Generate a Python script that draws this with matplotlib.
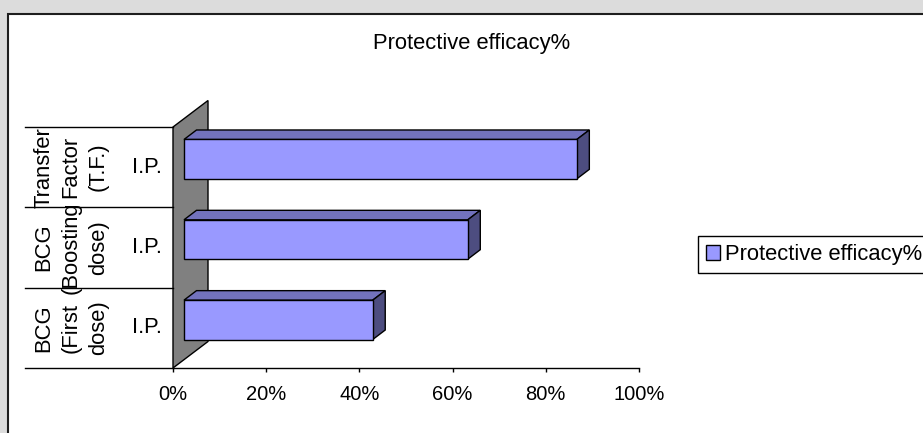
import numpy as np
import matplotlib
matplotlib.use("Agg")
import matplotlib.pyplot as plt
import matplotlib.transforms as mtransforms
from matplotlib.patches import Polygon, Rectangle, Patch

plt.rcParams['font.family'] = ['Liberation Sans', 'DejaVu Sans']

# ---- data -------------------------------------------------------------
chart_title = "Protective efficacy%"
series_name = "Protective efficacy%"
groups = ["BCG\n(First\ndose)", "BCG\n(Boosting\ndose)", "Transfer\nFactor\n(T.F.)"]
routes = ["I.P.", "I.P.", "I.P."]
efficacy = [40.5, 60.9, 84.3]
x_ticks = [0, 20, 40, 60, 80, 100]
x_tick_labels = ["0%", "20%", "40%", "60%", "80%", "100%"]

# ---- styling ----------------------------------------------------------
W, H = 923, 433
FRONT = "#9999ff"
TOP = "#7272bd"
SIDE = "#4d4d80"
WALL = "#808080"
TXT = 15.8
TICK_TXT = 14.5

fig = plt.figure(figsize=(W / 100, H / 100), dpi=100)
fig.patch.set_facecolor("#dcdcdc")

# chart area: white panel with a dark edge along the top and left
fig.patches.append(Rectangle((8 / W, -0.2), 1.3, (1 - 14 / H) + 0.2,
                             transform=fig.transFigure, facecolor="white",
                             edgecolor="#1e1e1e", linewidth=1.5, zorder=-5))

ax = fig.add_axes([173 / W, 1 - 368 / H, (639 - 173) / W, (368 - 127) / H])
ax.set_xlim(0, 100)
ax.set_ylim(-0.5, len(groups) - 0.5)
ax.patch.set_visible(False)
for s in ("top", "right", "left"):
    ax.spines[s].set_visible(False)
ax.spines["bottom"].set_color("black")
ax.spines["bottom"].set_linewidth(1.0)
ax.set_yticks([])
ax.set_xticks(x_ticks, x_tick_labels, fontsize=TICK_TXT)
ax.tick_params(axis="x", length=3, width=1, direction="out", pad=9.2, colors="black")


def shifted(xs, ys, dxs, dys):
    """Data points pushed back in depth by a pixel offset, returned in data units."""
    disp = ax.transData.transform(np.column_stack([xs, ys]))
    disp = disp + np.column_stack([dxs, dys])
    return ax.transData.inverted().transform(disp)


# side wall behind the category axis
n = len(groups)
wall_dx, wall_dy = 35, 26.5
wall = shifted([0, 0, 0, 0], [-0.5, n - 0.5, n - 0.5, -0.5],
               [0, 0, wall_dx, wall_dx], [0, 0, wall_dy, wall_dy])
ax.add_patch(Polygon(wall, closed=True, facecolor=WALL, edgecolor="black",
                     linewidth=1.0, clip_on=False, zorder=1))

# 3-D bars: front face offset into the depth, plus top and end faces
fdx, fdy = 11, 8
bdx, bdy = 23.5, 17.5
bar_h = 0.49
ypos = np.arange(n)
front_tr = mtransforms.offset_copy(ax.transData, fig=fig, x=fdx, y=fdy, units="dots")
for y, v in zip(ypos, efficacy):
    top = shifted([0, v, v, 0], [y + bar_h / 2] * 4, [fdx, fdx, bdx, bdx], [fdy, fdy, bdy, bdy])
    side = shifted([v, v, v, v], [y - bar_h / 2, y + bar_h / 2, y + bar_h / 2, y - bar_h / 2],
                   [fdx, fdx, bdx, bdx], [fdy, fdy, bdy, bdy])
    ax.add_patch(Polygon(top, closed=True, facecolor=TOP, edgecolor="black",
                         linewidth=1.0, clip_on=False, zorder=3))
    ax.add_patch(Polygon(side, closed=True, facecolor=SIDE, edgecolor="black",
                         linewidth=1.0, clip_on=False, zorder=3))
ax.barh(ypos, efficacy, height=bar_h, color=FRONT, edgecolor="black", linewidth=1.0,
        transform=front_tr, clip_on=False, zorder=4)

# two-level category axis: group names (rotated) and route labels
lab_tr = mtransforms.blended_transform_factory(fig.transFigure, ax.transData)
for b in np.arange(n + 1) - 0.5:
    ax.plot([25 / W, 173 / W], [b, b], color="black", linewidth=1.0,
            transform=lab_tr, clip_on=False, zorder=2)
for y, g, r in zip(ypos, groups, routes):
    ax.text(71 / W, y, g, transform=lab_tr, rotation=90, ha="center", va="center",
            multialignment="center", fontsize=TXT, linespacing=1.4)
    ax.text(147 / W, y, r, transform=lab_tr, ha="center", va="center", fontsize=TXT)

fig.text(471.5 / W, 1 - 49 / H, chart_title, ha="center", va="baseline", fontsize=TXT)

leg = fig.legend(handles=[Patch(facecolor=FRONT, edgecolor="black", linewidth=1.0,
                                label=series_name)],
                 loc="center left", bbox_to_anchor=(698 / W, 1 - 254.5 / H),
                 borderaxespad=0, frameon=True, fancybox=False, framealpha=1,
                 edgecolor="black", fontsize=TXT, handlelength=0.65, handleheight=0.65,
                 handletextpad=0.25, borderpad=0.35)
leg.get_frame().set_linewidth(1.0)

fig.savefig("out.png", dpi=100, facecolor=fig.get_facecolor())
